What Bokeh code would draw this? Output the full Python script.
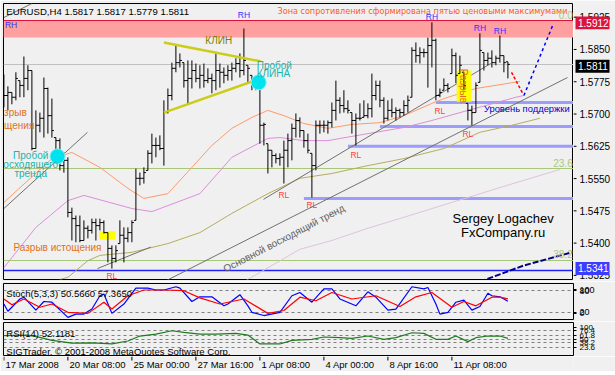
import math
from bokeh.plotting import figure
from bokeh.layouts import column, row
from bokeh.models import Range1d, FixedTicker, ColumnDataSource
from bokeh.core.properties import value
from bokeh.embed import file_html
from bokeh.resources import INLINE

PT = 1e-4  # prices below are given in points (1/10000)

# ---------------- price bars (EURUSD H4) ----------------
bar_open = [15774, 15740, 15747, 15736, 15774, 15763, 15779, 15797, 15619, 15672,
            15688, 15756, 15694, 15644, 15637, 15580, 15592, 15473, 15459, 15443,
            15409, 15437, 15432, 15450, 15443, 15450, 15427, 15391, 15368, 15402,
            15421, 15414, 15427, 15455, 15551, 15551, 15569, 15608, 15626, 15626,
            15619, 15701, 15740, 15802, 15815, 15815, 15774, 15779, 15797, 15779,
            15786, 15774, 15779, 15774, 15797, 15793, 15786, 15797, 15802, 15813,
            15797, 15809, 15786, 15763, 15763, 15672, 15630, 15615, 15603, 15596,
            15599, 15615, 15637, 15665, 15683, 15660, 15637, 15608, 15580, 15672,
            15672, 15672, 15678, 15706, 15729, 15717, 15710, 15701, 15683, 15688,
            15690, 15694, 15710, 15740, 15763, 15729, 15688, 15706, 15701, 15706,
            15701, 15717, 15736, 15843, 15831, 15838, 15838, 15854, 15866, 15740,
            15752, 15763, 15790, 15831, 15790, 15793, 15722, 15706, 15701, 15770,
            15838, 15820, 15825, 15815, 15825, 15831, 15817]
bar_high = [15788, 15761, 15747, 15793, 15774, 15829, 15809, 15797, 15706, 15701,
            15781, 15758, 15733, 15644, 15642, 15610, 15599, 15484, 15466, 15466,
            15455, 15443, 15459, 15459, 15459, 15455, 15427, 15398, 15398, 15455,
            15439, 15439, 15455, 15573, 15564, 15576, 15615, 15653, 15644, 15649,
            15729, 15756, 15815, 15854, 15836, 15815, 15820, 15820, 15813, 15809,
            15813, 15802, 15790, 15836, 15813, 15804, 15809, 15815, 15825, 15836,
            15893, 15809, 15786, 15779, 15770, 15678, 15630, 15615, 15608, 15608,
            15637, 15653, 15676, 15699, 15690, 15660, 15653, 15608, 15683, 15683,
            15683, 15683, 15724, 15774, 15736, 15752, 15729, 15701, 15699, 15722,
            15729, 15722, 15790, 15774, 15774, 15736, 15729, 15733, 15713, 15710,
            15729, 15740, 15850, 15861, 15850, 15847, 15872, 15907, 15870, 15756,
            15779, 15768, 15847, 15838, 15831, 15793, 15722, 15717, 15770, 15882,
            15838, 15838, 15843, 15831, 15877, 15831, 15817]
bar_low = [15713, 15706, 15720, 15729, 15736, 15736, 15752, 15615, 15619, 15656,
           15644, 15653, 15644, 15585, 15569, 15564, 15462, 15409, 15405, 15405,
           15409, 15414, 15425, 15409, 15432, 15425, 15359, 15345, 15359, 15402,
           15359, 15405, 15405, 15455, 15535, 15539, 15569, 15585, 15599, 15615,
           15580, 15699, 15729, 15793, 15804, 15758, 15722, 15756, 15770, 15756,
           15758, 15768, 15745, 15752, 15758, 15768, 15774, 15774, 15793, 15781,
           15786, 15770, 15752, 15752, 15630, 15626, 15562, 15576, 15585, 15580,
           15539, 15576, 15592, 15644, 15644, 15621, 15608, 15507, 15569, 15653,
           15656, 15653, 15667, 15683, 15699, 15701, 15699, 15653, 15626, 15683,
           15690, 15688, 15690, 15729, 15713, 15676, 15683, 15690, 15683, 15690,
           15694, 15701, 15736, 15815, 15813, 15827, 15758, 15804, 15729, 15736,
           15752, 15747, 15790, 15768, 15790, 15752, 15683, 15672, 15701, 15770,
           15797, 15809, 15804, 15809, 15815, 15793, 15779]
bar_close = [15740, 15747, 15736, 15779, 15763, 15779, 15797, 15619, 15672, 15688,
             15756, 15694, 15660, 15637, 15580, 15592, 15473, 15459, 15443, 15409,
             15437, 15432, 15450, 15443, 15450, 15427, 15391, 15368, 15386, 15421,
             15414, 15427, 15450, 15551, 15551, 15564, 15608, 15626, 15626, 15619,
             15701, 15740, 15802, 15815, 15820, 15774, 15779, 15797, 15779, 15786,
             15774, 15779, 15774, 15797, 15793, 15786, 15797, 15802, 15813, 15797,
             15820, 15802, 15763, 15763, 15672, 15674, 15615, 15603, 15596, 15599,
             15615, 15637, 15665, 15683, 15660, 15637, 15615, 15580, 15672, 15672,
             15672, 15678, 15706, 15729, 15717, 15710, 15706, 15683, 15688, 15688,
             15694, 15710, 15740, 15763, 15729, 15688, 15706, 15701, 15706, 15701,
             15717, 15729, 15843, 15831, 15838, 15838, 15854, 15866, 15740, 15747,
             15763, 15756, 15831, 15786, 15809, 15763, 15706, 15701, 15763, 15843,
             15820, 15825, 15815, 15825, 15831, 15815, 15811]

time_tick_bars = [0, 16, 32, 48, 64, 80, 96, 112]
time_tick_labels = ["17 Mar 2008", "20 Mar 08:00", "25 Mar 00:00", "27 Mar 16:00",
                    "1 Apr 08:00", "4 Apr 00:00", "8 Apr 16:00", "11 Apr 08:00"]
price_ticks = [1.5325, 1.5400, 1.5475, 1.5550, 1.5625, 1.5700, 1.5775, 1.5850, 1.5925]

# ---------------- moving averages (vertices) ----------------
ma_orange_bar = [0, 12, 17, 24, 31, 35, 41, 47, 52, 57, 62, 66, 70, 75, 81, 87, 94, 100, 107, 110, 118, 129]
ma_orange = [15496, 15596, 15610, 15576, 15528, 15505, 15516, 15576, 15626, 15665, 15690,
             15706, 15694, 15676, 15665, 15674, 15678, 15694, 15722, 15733, 15756, 15772]
ma_violet_bar = [0, 8, 16, 20, 32, 37, 49, 57, 66, 69, 75, 81, 91, 100, 107, 116, 128, 130]
ma_violet = [15347, 15439, 15500, 15512, 15482, 15475, 15516, 15599, 15642, 15644, 15637,
             15637, 15653, 15667, 15683, 15706, 15736, 15740]
ma_olive_bar = [14, 16, 21, 24, 32, 41, 49, 57, 66, 74, 82, 91, 100, 110, 119, 127, 134]
ma_olive = [15320, 15325, 15363, 15375, 15382, 15402, 15427, 15471, 15516, 15551, 15562,
            15580, 15596, 15619, 15656, 15672, 15688]
ma_lavender_bar = [60, 74, 82, 91, 100, 112, 128, 139]
ma_lavender = [15315, 15389, 15409, 15437, 15462, 15496, 15541, 15571]
ma_navy_bar = [119, 130, 142]
ma_navy = [15315, 15352, 15382]

# ---------------- drawn objects ----------------
trend_bar0 = [0, 0, 23.4, 64.9, 39.2]
trend_p0 = [15918, 15482, 15345, 15503, 15311]
trend_bar1 = [7, 20.9, 36.7, 121.7, 140.9]
trend_p1 = [15950, 15656, 15394, 15813, 15781]
wedge_bar0 = [40, 40]
wedge_p0 = [15861, 15701]
wedge_bar1 = [64.2, 64.2]
wedge_p1 = [15818, 15779]
support_bar = [108, 94, 86, 75]
support_p = [15724, 15669, 15624, 15505]
zone_bottom, zone_top = 15873, 15912
bid_price = 15811
blue_level = 15341
fib_names = ["0.0", "23.6", "38.2"]
fib_p = [15912, 15573, 15364]
circle_bar = [63.7, 13.4]
circle_p = [15770, 15601]
gap_left = [23.9, 113.2]
gap_right = [27.9, 116.9]
gap_bottom = [15411, 15726]
gap_top = [15430, 15797]
proj_red_bar = [126.9, 129.7]
proj_red_p = [15793, 15745]
proj_blue_bar = [130, 137.2]
proj_blue_p = [15740, 15900]
tag_prices = [15912, 15811, 15341]
tag_colors = ["#DC143C", "#000000", "#3C3CFF"]

# ---------------- oscillators ----------------
stoch_k_bar = [0, 1, 4, 5, 8, 10, 12, 16, 18, 20, 22, 24, 25, 27, 30, 33, 36, 38, 40, 43, 44, 47, 49, 52,
               55, 56, 59, 61, 62, 65, 69, 72, 74, 76, 77, 80, 82, 84, 88, 91, 93, 96, 98, 102, 105,
               106, 108, 109, 111, 113, 115, 117, 119, 121, 122, 124, 126]
stoch_k = [43, 23, 57, 62, 26, 50, 48, 6, 15, 15, 29, 66, 71, 17, 43, 87, 87, 82, 82, 91, 87, 50, 63, 63,
           38, 43, 69, 38, 20, 11, 20, 66, 75, 57, 48, 85, 85, 57, 38, 77, 62, 26, 29, 91, 85,
           89, 43, 15, 20, 48, 54, 26, 36, 73, 66, 63, 50.566]
stoch_d_bar = [0, 2, 5, 9, 12, 16, 21, 25, 27, 31, 35, 40, 45, 49, 54, 60, 66, 70, 74, 78, 82, 87, 93, 99,
               103, 107, 112, 115, 118, 122, 124, 126]
stoch_d = [57, 41, 57, 34, 43, 20, 17, 48, 29, 66, 82, 82, 80, 60, 43, 57, 17, 25, 62, 52, 75, 57, 66, 36,
           63, 75, 34, 50, 38, 62, 62, 57.365]
stoch_levels = [20, 80]
# scale labels: the 100 / 0 labels sit squeezed against the 80 / 20 levels, as on the chart
stoch_ticks = [18, 20, 80, 83]
stoch_tick_labels = {18: "0", 20: "20", 80: "80", 83: "100"}
rsi_bar = [0, 6, 9, 12, 17, 22, 27, 31, 34, 38, 42, 45, 49, 53, 58, 61, 64, 69, 72, 77, 80, 84, 87, 91,
           95, 98, 102, 105, 108, 111, 113, 116, 118, 121, 124, 126]
rsi = [60, 62, 55, 46, 37.5, 38.5, 35, 44, 59, 65, 75, 70, 65, 65, 67, 62, 35, 35, 46, 49, 56, 54, 52, 59,
       49, 54, 69, 67, 49, 49, 59, 42, 54, 59, 59, 52.1181]
rsi_levels = [23.6, 38.2, 50, 61.8, 76.4]
rsi_ticks = [23.6, 38.2, 50, 61.8, 76.4, 84]
rsi_tick_labels = {23.6: "23.6", 38.2: "38.2", 50: "50", 61.8: "61.8", 76.4: "76.4", 84: "100"}

# ---------------- styling ----------------
BG = "#F0F0F0"
FONT = "Liberation Sans"
W = 615
LEFT, RIGHT = 3, 42
MAIN_H, MAIN_TOP, MAIN_BOTTOM = 281, 3, 2
P_LO, P_HI = 1.5320, 1.5950


def px(points):
    return [v * PT for v in points]


def txt(fig, xs, ys, texts, color, size="10px", align="left", baseline="middle", angle=0.0, font=FONT):
    fig.text(x=xs, y=ys, text=texts, text_color=color, text_font=value(font),
             text_font_size=value(size), text_align=align, text_baseline=baseline, angle=angle)


def style_axis(ax, size):
    ax.axis_line_color = None
    ax.major_tick_in = 0
    ax.major_tick_out = 3
    ax.major_tick_line_color = "black"
    ax.minor_tick_line_color = None
    ax.major_label_standoff = 3
    ax.major_label_text_font = FONT
    ax.major_label_text_color = "black"
    ax.major_label_text_font_size = size


def no_grid(f):
    f.xgrid.visible = False
    f.ygrid.visible = False


xr = Range1d(-0.1, 142.4)
yr_main = Range1d(P_LO, P_HI)
bars = list(range(len(bar_close)))

# ================= main price pane =================
p = figure(width=W - RIGHT, height=MAIN_H, x_range=xr, y_range=yr_main,
           output_backend="svg", toolbar_location=None,
           x_axis_location=None, y_axis_location=None,
           min_border_left=LEFT, min_border_right=0,
           min_border_top=MAIN_TOP, min_border_bottom=MAIN_BOTTOM,
           background_fill_color=BG, border_fill_color=BG,
           outline_line_color="black", outline_line_width=1)
no_grid(p)

# resistance zone + horizontal levels
p.hstrip(y0=[zone_bottom * PT], y1=[zone_top * PT], fill_color="#FFA0A0", line_color=None)
p.hspan(y=[zone_top * PT], line_color="#E0103C", line_width=1)
p.hspan(y=[bid_price * PT], line_color="#C0C0C0", line_width=1)
p.hspan(y=px(fib_p[1:]), line_color="#A9C77B", line_width=1)
p.hspan(y=[blue_level * PT], line_color="#2020FF", line_width=1.5)
p.ray(x=support_bar, y=px(support_p), length=0, angle=0, line_color="#9C9CFF", line_width=3)

# moving averages
p.line(ma_lavender_bar, px(ma_lavender), line_color="#DDC3DD", line_width=1)
p.line(ma_olive_bar, px(ma_olive), line_color="#B5AD5A", line_width=1)
p.line(ma_violet_bar, px(ma_violet), line_color="#DA8FDA", line_width=1)
p.line(ma_orange_bar, px(ma_orange), line_color="#FF9A6A", line_width=1)
p.line(ma_navy_bar, px(ma_navy), line_color="#000080", line_width=2, line_dash="6 2")

# trend lines
p.segment(x0=trend_bar0, y0=px(trend_p0), x1=trend_bar1, y1=px(trend_p1), line_color="#707070", line_width=1)

# gap rectangles
p.quad(left=gap_left, right=gap_right, bottom=px(gap_bottom), top=px(gap_top), fill_color="#FFFF00", line_color=None)

# OHLC bars
src = ColumnDataSource(dict(
    i=bars, il=[b - 0.5 for b in bars], ir=[b + 0.5 for b in bars],
    o=px(bar_open), h=px(bar_high), l=px(bar_low), c=px(bar_close)))
p.segment(x0="i", y0="l", x1="i", y1="h", source=src, line_color="black", line_width=1)
p.segment(x0="il", y0="o", x1="i", y1="o", source=src, line_color="black", line_width=1)
p.segment(x0="i", y0="c", x1="ir", y1="c", source=src, line_color="black", line_width=1)

# wedge and breakout markers
p.segment(x0=wedge_bar0, y0=px(wedge_p0), x1=wedge_bar1, y1=px(wedge_p1), line_color="#CCCC1A", line_width=2.5)
p.scatter(circle_bar, px(circle_p), size=15, fill_color="#00E3EF", line_color="#7FF0F7", line_width=1)

# projections
p.line(proj_red_bar, px(proj_red_p), line_color="#FF0000", line_width=1.5, line_dash="3 2")
p.line(proj_blue_bar, px(proj_blue_p), line_color="#0000FF", line_width=1.5, line_dash="3 3")

# texts
txt(p, [0.6], [1.5932], ["EURUSD,H4  1.5817 1.5817 1.5779 1.5811"], "black", "9.6px")
txt(p, [68.4], [1.5934], ["Зона сопротивления сформирована пятью ценовыми максимумами"], "#FF5A1F", "8.1px",
    font="DejaVu Sans")
txt(p, [1.8, 60, 107, 119, 124], [1.5900, 1.5923, 1.5920, 1.5895, 1.5888], ["RH"] * 5, "#3030FF", "8.5px", align="center")
txt(p, [27, 70, 77, 88, 109, 116], [1.5327, 1.5514, 1.5491, 1.5605, 1.5704, 1.5651], ["RL"] * 6, "#FF4040", "8.5px", align="center")
txt(p, [53.7], [1.5866], ["КЛИН"], "#808000", "10px", align="center")
txt(p, [63.2, 63.2], [1.5809, 1.5790], ["Пробой", "КЛИНА"], "#20B2AA", "10px")
txt(p, [6.7, 6.7, 6.7], [1.5603, 1.5583, 1.5562], ["Пробой", "осходящего", "тренда"], "#20B2AA", "10px", align="center")
txt(p, [2.4], [1.5393], ["Разрыв истощения"], "#E07020", "10px")
# the visible tail of an earlier gap label at the left edge of the window
txt(p, [0.05, 0.05], [1.5701, 1.5672], ["зрыв", "щения"], "#E07020", "10px")
txt(p, [115], [1.5762], ["Разрыв"], "#E07020", "10px", align="center", angle=-math.pi / 2)
txt(p, [120], [1.5710], ["Уровень поддержки"], "#0000CC", "9.4px")
txt(p, [124.8, 124.8], [1.5459, 1.5427], ["Sergey Logachev", "FxCompany.ru"], "black", "13px", align="center")
txt(p, [142.2, 142.2, 142.2], [1.5923, 1.5585, 1.5379], fib_names, "#A9C77B", "10px", align="right")
txt(p, [70], [1.5414], ["Основной восходящий тренд"], "#606060", "10px", align="center",
    angle=math.atan2(0.52, 1.0))

# ================= price scale (right strip of the main pane) =================
s = (P_HI - P_LO) / (MAIN_H - MAIN_TOP - MAIN_BOTTOM)   # price per pixel
pax = figure(width=RIGHT, height=MAIN_H, x_range=Range1d(0, RIGHT),
             y_range=Range1d(P_LO - MAIN_BOTTOM * s, P_HI + MAIN_TOP * s),
             output_backend="svg", toolbar_location=None,
             x_axis_location=None, y_axis_location=None, min_border=0,
             background_fill_color=BG, border_fill_color=BG, outline_line_color=None)
no_grid(pax)
pax.segment(x0=[0] * len(price_ticks), y0=price_ticks, x1=[3] * len(price_ticks), y1=price_ticks,
            line_color="black", line_width=1)
txt(pax, [6] * len(price_ticks), price_ticks, [f"{t:.4f}" for t in price_ticks], "black", "10px")
tag_y = px(tag_prices)
pax.quad(left=[2] * 3, right=[36] * 3, bottom=[t - 6.5 * s for t in tag_y], top=[t + 6.5 * s for t in tag_y],
         fill_color=tag_colors, line_color=None)
txt(pax, [4.5] * 3, tag_y, [f"{t:.4f}" for t in tag_y], "white", "10px")


# ================= oscillator panes =================
def osc_fig(height, top, bottom):
    f = figure(width=W, height=height, x_range=xr, y_range=Range1d(0, 100),
               output_backend="svg", toolbar_location=None,
               x_axis_location=None, y_axis_location="right",
               min_border_left=LEFT, min_border_right=RIGHT,
               min_border_top=top, min_border_bottom=bottom,
               background_fill_color=BG, border_fill_color=BG,
               outline_line_color="black", outline_line_width=1)
    no_grid(f)
    return f


ps = osc_fig(40, 2, 2)
ps.yaxis[0].ticker = FixedTicker(ticks=stoch_ticks)
ps.yaxis[0].major_label_overrides = stoch_tick_labels
style_axis(ps.yaxis[0], "9px")
ps.hspan(y=stoch_levels, line_color="#808080", line_width=1, line_dash="3 3")
ps.line(stoch_k_bar, stoch_k, line_color="#0000FF", line_width=1.2)
ps.line(stoch_d_bar, stoch_d, line_color="#FF0000", line_width=1.2)
txt(ps, [0.6], [73], ["Stoch(5,3,3) 50.5660 57.3650"], "black", "9.5px")

pr = osc_fig(35, 1, 1)
pr.yaxis[0].ticker = FixedTicker(ticks=rsi_ticks)
pr.yaxis[0].major_label_overrides = rsi_tick_labels
style_axis(pr.yaxis[0], "8px")
pr.hspan(y=rsi_levels, line_color="#808080", line_width=1, line_dash="3 3")
pr.line(rsi_bar, rsi, line_color="#1F7A1F", line_width=1.2)
txt(pr, [0.6], [67], ["RSI(14) 52.1181"], "black", "9.5px")
txt(pr, [0.6], [11.5], ["SIGTrader, © 2001-2008 MetaQuotes Software Corp."], "black", "9.5px")

# ================= time axis strip =================
pa = figure(width=W, height=15, x_range=xr, y_range=Range1d(0, 15), output_backend="svg",
            toolbar_location=None, x_axis_location=None, y_axis_location=None,
            min_border=0, min_border_left=LEFT, min_border_right=RIGHT,
            background_fill_color=BG, border_fill_color=BG, outline_line_color=None)
no_grid(pa)
pa.segment(x0=time_tick_bars, y0=[15] * len(time_tick_bars), x1=time_tick_bars, y1=[11] * len(time_tick_bars),
           line_color="black", line_width=1)
txt(pa, [b + 0.4 for b in time_tick_bars], [7.5] * len(time_tick_bars), time_tick_labels, "black", "9.5px")

# black window edge
pb = figure(width=W, height=4, x_range=xr, y_range=Range1d(0, 1), output_backend="svg",
            toolbar_location=None, x_axis_location=None, y_axis_location=None, min_border=0,
            background_fill_color="black", border_fill_color="black", outline_line_color=None)
no_grid(pb)

layout = column(row(p, pax, spacing=0), ps, pr, pa, pb, spacing=0)

open("out.html", "w").write(file_html(layout, INLINE))
